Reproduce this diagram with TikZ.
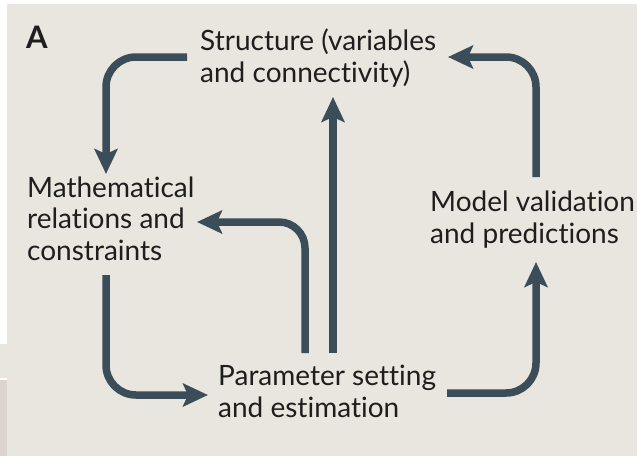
\documentclass[tikz,border=0pt]{standalone}
\usepackage{fontspec}
\setmainfont{Lato}[Ligatures=NoCommon]
\usetikzlibrary{arrows.meta}
\definecolor{paper}{HTML}{E9E5DF}
\definecolor{paperpink}{HTML}{DDD4D0}
\definecolor{flow}{HTML}{3B4D59}
\definecolor{ink}{HTML}{1E1E1E}
\tikzset{
  label text/.style={anchor=base west, inner sep=0pt, text=ink, align=left,
    font=\fontsize{28pt}{31.5pt}\selectfont},
  flow arrow/.style={draw=flow, line width=7.5pt, rounded corners=30pt,
    -{Stealth[length=25pt, width=23pt, inset=5pt]}},
}
\begin{document}
\begin{tikzpicture}[x=1pt, y=-1pt]
  \useasboundingbox (0,0) rectangle (637,456);
  % page background
  \fill[white] (0,0) rectangle (637,456);
  \fill[paper] (7,4) rectangle (637,456);
  \fill[paper] (0,344) rectangle (7,378);
  \fill[paperpink] (0,380) rectangle (7,456);

  % panel letter
  \node[anchor=base west, inner sep=0pt, text=ink,
    font=\fontsize{31pt}{32pt}\selectfont\bfseries] (panel) at (26,48.5) {A};

  % stage labels (anchored at the baseline of their last line)
  \node[label text] (structure) at (200,82) {Structure (variables\\and connectivity)};
  \node[label text] (maths) at (27,260) {Mathematical\\relations and\\constraints};
  \node[label text] (validation) at (430,243) {Model validation\\and predictions};
  \node[label text] (params) at (218,417) {Parameter setting\\and estimation};

  % arrow end points
  \coordinate (s-out) at (187,57);
  \coordinate (m-in) at (106,174);
  \coordinate (m-out) at (106,275);
  \coordinate (p-in) at (208,395);
  \coordinate (p-out) at (447,393);
  \coordinate (v-in) at (536,262);
  \coordinate (v-out) at (536,177);
  \coordinate (s-in) at (448,57);
  \coordinate (p-up1) at (305,353);
  \coordinate (m-back) at (197,222);
  \coordinate (p-up2) at (333,353);
  \coordinate (s-below) at (333,97);

  % cycle
  \draw[flow arrow] (s-out) -| (m-in);
  \draw[flow arrow] (m-out) |- (p-in);
  \draw[flow arrow] (p-out) -| (v-in);
  \draw[flow arrow] (v-out) |- (s-in);
  % feedback from parameter setting
  \draw[flow arrow, rounded corners=26pt] (p-up1) |- (m-back);
  \draw[flow arrow] (p-up2) -- (s-below);
\end{tikzpicture}
\end{document}
